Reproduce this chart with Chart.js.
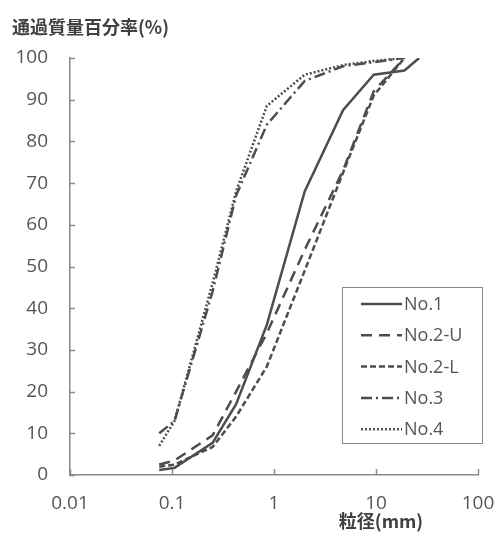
<!DOCTYPE html>
<html>
<head>
<meta charset="utf-8">
<script src="https://cdn.jsdelivr.net/npm/chart.js@4"></script>
<style>
  body { margin: 0; background: #fff; }
  #wrap { width: 497px; height: 537px; }
</style>
</head>
<body>
<div id="wrap"><canvas id="myChart" width="497" height="537"></canvas></div>
<script>
// sieve sizes (mm) and passing percentages
var sieve = [0.075, 0.106, 0.25, 0.425, 0.85, 2, 4.75, 9.5, 19, 26.5];
var no1  = [1.2, 1.7, 7.7, 17, 36, 68, 87.5, 96, 97, 100];
var no2U = [2.5, 3.5, 9.5, 20, 34, 54, 73, 92, 100, null];
var no2L = [2, 2.5, 6.7, 14, 26, 49, 72.5, 91, 100, null];
var no3  = [10, 13, 44, 67, 84, 94.5, 98, 99, 100, null];
var no4  = [7, 13, 46, 68, 88.5, 96, 98.3, 99.3, 100, null];

var seriesNames = ["No.1", "No.2-U", "No.2-L", "No.3", "No.4"];
var seriesDash = [[], [11, 7], [6, 3], [11, 4, 2, 4], [2, 2]];
var xTicks = [0.01, 0.1, 1, 10, 100];
var yTicks = [0, 10, 20, 30, 40, 50, 60, 70, 80, 90, 100];

var lineColor = "#4d4d4d";
var textColor = "#555555";
var fontFam = "'Open Sans', 'Noto Sans', sans-serif";

function toPoints(arr) {
    var pts = [];
    arr.forEach(function(v, i){
        if (v !== null) pts.push({x: sieve[i], y: v});
    });
    return pts;
}

var datasets = [no1, no2U, no2L, no3, no4].map(function(arr, i){
    return {
        label: seriesNames[i],
        data: toPoints(arr),
        borderColor: lineColor,
        borderWidth: 2.5,
        borderDash: seriesDash[i],
        pointRadius: 0,
        tension: 0,
        fill: false
    };
});

// inward tick marks, titles and legend box
var decorations = {
    id: "decorations",
    afterDraw: function(chart) {
        var ctx = chart.ctx;
        var xs = chart.scales.x, ys = chart.scales.y;
        var area = chart.chartArea;
        ctx.save();
        ctx.strokeStyle = "#8a8a8a";
        ctx.lineWidth = 1.5;
        ctx.beginPath();
        yTicks.forEach(function(v){
            var py = Math.round(ys.getPixelForValue(v)) + 0.5;
            ctx.moveTo(area.left, py);
            ctx.lineTo(area.left + 5, py);
        });
        xTicks.forEach(function(v){
            var px = Math.round(xs.getPixelForValue(v)) + 0.5;
            ctx.moveTo(px, area.bottom);
            ctx.lineTo(px, area.bottom - 6);
        });
        ctx.stroke();

        // axis titles
        ctx.fillStyle = "#404040";
        ctx.font = "bold 18px 'Noto Sans CJK JP', sans-serif";
        ctx.textBaseline = "middle";
        ctx.textAlign = "left";
        ctx.fillText("通過質量百分率(%)", 12, 27);
        ctx.textAlign = "center";
        ctx.fillText("粒径(mm)", 381, 521);

        // legend
        var lx = 342, ly = 287, lw = 140, lh = 156;
        ctx.strokeStyle = "#8a8a8a";
        ctx.lineWidth = 1;
        ctx.strokeRect(lx + 0.5, ly + 0.5, lw, lh);
        ctx.font = "18px " + fontFam;
        ctx.textAlign = "left";
        seriesNames.forEach(function(name, i){
            var cy = 304 + i * 31.3;
            ctx.strokeStyle = lineColor;
            ctx.lineWidth = 2.5;
            ctx.setLineDash(seriesDash[i]);
            ctx.beginPath();
            ctx.moveTo(361, cy);
            ctx.lineTo(402, cy);
            ctx.stroke();
            ctx.setLineDash([]);
            ctx.fillStyle = textColor;
            ctx.fillText(name, 404, cy + 1);
        });
        ctx.restore();
    }
};

var ctx = document.getElementById("myChart").getContext("2d");
var myChart = new Chart(ctx, {
    type: "line",
    data: { datasets: datasets },
    plugins: [decorations],
    options: {
        responsive: false,
        animation: false,
        devicePixelRatio: 1,
        layout: { padding: { top: 58, right: 19, left: 0, bottom: 0 } },
        plugins: { legend: { display: false }, tooltip: { enabled: false } },
        scales: {
            x: {
                type: "logarithmic",
                min: 0.01,
                max: 100,
                afterBuildTicks: function(scale){
                    scale.ticks = xTicks.map(function(v){ return {value: v}; });
                },
                afterFit: function(scale){
                    scale.height = 62;
                    scale.paddingLeft = 0;
                    scale.paddingRight = 0;
                },
                ticks: {
                    color: textColor,
                    font: { size: 19, family: fontFam },
                    padding: 17,
                    maxRotation: 0,
                    callback: function(v){ return String(v); }
                },
                grid: { drawOnChartArea: false, drawTicks: false },
                border: { color: "#8a8a8a", width: 1.5 }
            },
            y: {
                type: "linear",
                min: 0,
                max: 100,
                afterBuildTicks: function(scale){
                    scale.ticks = yTicks.map(function(v){ return {value: v}; });
                },
                afterFit: function(scale){
                    scale.width = 70;
                    scale.paddingTop = 0;
                    scale.paddingBottom = 0;
                },
                ticks: {
                    color: textColor,
                    font: { size: 19, family: fontFam },
                    padding: 22
                },
                grid: { drawOnChartArea: false, drawTicks: false },
                border: { color: "#8a8a8a", width: 1.5 }
            }
        }
    }
});
</script>
</body>
</html>
